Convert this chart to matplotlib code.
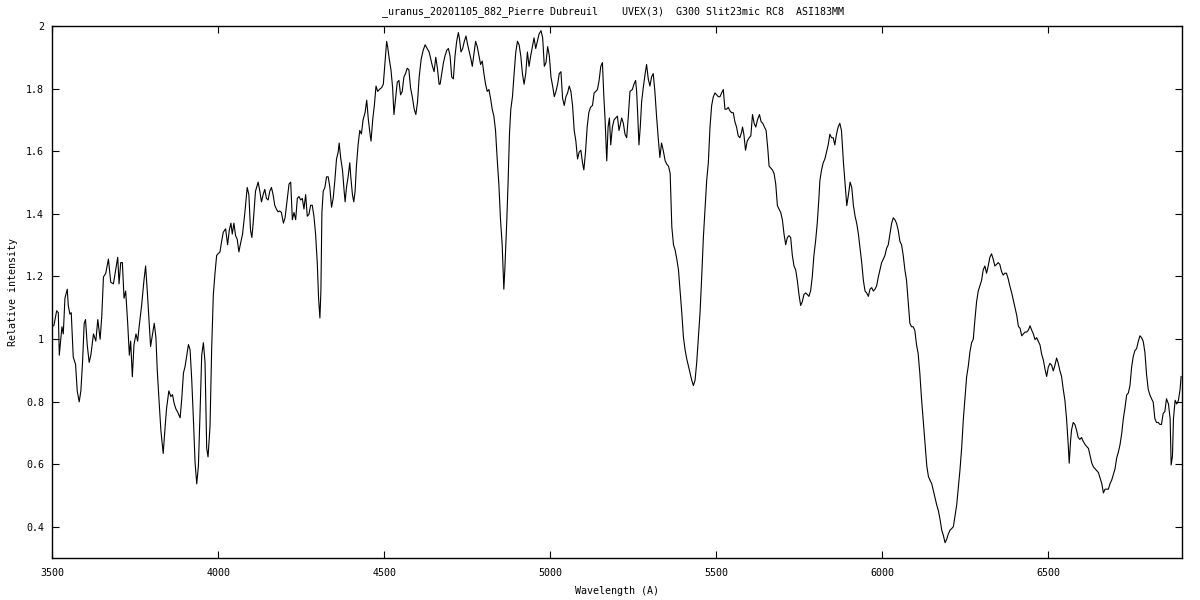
import numpy as np
import matplotlib
matplotlib.use("Agg")
import matplotlib.pyplot as plt
from matplotlib.ticker import FuncFormatter

# spectrum, split in wavelength blocks (Angstrom, relative intensity)
wl_3500 = [3500, 3505, 3513, 3518, 3521, 3525, 3529, 3533, 3538, 3545, 3548, 3553, 3557, 3563, 3570,
           3575, 3581, 3586, 3591, 3596, 3600, 3605, 3611, 3616, 3624, 3631, 3637, 3644, 3649, 3654,
           3661, 3669, 3676, 3684, 3691, 3697, 3701, 3706, 3711, 3716, 3721, 3727, 3732, 3736, 3741,
           3746, 3752, 3757, 3762, 3769, 3776, 3781, 3786, 3791, 3796, 3802, 3807, 3812, 3816, 3821,
           3827, 3834, 3839, 3844, 3851, 3857, 3862, 3867, 3872, 3878, 3885, 3890, 3895, 3900, 3905,
           3910, 3915, 3920, 3925, 3930, 3935, 3940, 3945, 3950, 3955, 3960, 3965, 3969, 3975, 3980,
           3985, 3990, 3995, 4000, 4005, 4010, 4015, 4022, 4028, 4033, 4038, 4042, 4047, 4052, 4057, 4062]
fl_3500 = [1.039, 1.044, 1.090, 1.084, 0.948, 0.993, 1.039, 1.016, 1.130, 1.159, 1.107, 1.079, 1.084, 0.942, 0.919,
           0.834, 0.799, 0.834, 0.925, 1.050, 1.062, 0.982, 0.925, 0.948, 1.016, 0.993, 1.062, 0.999, 1.073, 1.198,
           1.210, 1.255, 1.181, 1.176, 1.221, 1.261, 1.176, 1.244, 1.244, 1.130, 1.153, 1.050, 0.948, 0.993, 0.879,
           0.982, 1.016, 0.993, 1.044, 1.107, 1.187, 1.233, 1.153, 1.062, 0.976, 1.016, 1.050, 1.005, 0.902, 0.811,
           0.708, 0.634, 0.708, 0.777, 0.834, 0.816, 0.822, 0.794, 0.777, 0.765, 0.748, 0.811, 0.891, 0.913, 0.948,
           0.982, 0.965, 0.868, 0.742, 0.605, 0.537, 0.594, 0.765, 0.948, 0.988, 0.925, 0.651, 0.623, 0.720, 0.970,
           1.142, 1.210, 1.267, 1.273, 1.278, 1.312, 1.341, 1.352, 1.301, 1.347, 1.370, 1.335, 1.370, 1.330, 1.318, 1.278]

wl_4065 = [4065, 4073, 4080, 4087, 4092, 4097, 4101, 4105, 4112, 4120, 4125, 4130, 4135, 4140, 4145,
           4150, 4155, 4160, 4165, 4170, 4175, 4180, 4185, 4190, 4196, 4201, 4208, 4213, 4218, 4223,
           4228, 4233, 4238, 4243, 4248, 4253, 4258, 4263, 4268, 4273, 4278, 4283, 4288, 4293, 4298,
           4302, 4306, 4309, 4312, 4316, 4321, 4326, 4331, 4336, 4341, 4346, 4351, 4356, 4361, 4364,
           4369, 4374, 4379, 4382, 4386, 4391, 4396, 4399, 4404, 4408, 4412, 4416, 4421, 4426, 4431,
           4436, 4442, 4447, 4452, 4457, 4460, 4465, 4470, 4475, 4480, 4485, 4492, 4497, 4502, 4507,
           4510, 4515, 4520, 4525, 4529, 4534, 4539, 4544, 4549, 4554, 4559, 4564, 4569, 4574, 4579,
           4585, 4590, 4595, 4600, 4605, 4611, 4617, 4623, 4629, 4635, 4640, 4645, 4650, 4655, 4660, 4665]
fl_4065 = [1.295, 1.335, 1.404, 1.484, 1.461, 1.347, 1.324, 1.370, 1.472, 1.501, 1.472, 1.438, 1.461, 1.478, 1.449,
           1.444, 1.472, 1.484, 1.461, 1.427, 1.415, 1.406, 1.409, 1.404, 1.370, 1.387, 1.449, 1.495, 1.501, 1.381,
           1.404, 1.381, 1.449, 1.455, 1.444, 1.449, 1.415, 1.461, 1.392, 1.398, 1.427, 1.427, 1.392, 1.335, 1.244,
           1.130, 1.067, 1.153, 1.404, 1.472, 1.484, 1.518, 1.518, 1.484, 1.421, 1.449, 1.506, 1.575, 1.597, 1.626,
           1.575, 1.540, 1.472, 1.438, 1.484, 1.518, 1.563, 1.518, 1.461, 1.438, 1.472, 1.552, 1.620, 1.666, 1.655,
           1.700, 1.723, 1.763, 1.700, 1.655, 1.632, 1.700, 1.746, 1.808, 1.791, 1.797, 1.803, 1.814, 1.882, 1.951,
           1.934, 1.894, 1.860, 1.803, 1.717, 1.769, 1.820, 1.826, 1.780, 1.791, 1.837, 1.848, 1.865, 1.860, 1.803,
           1.769, 1.734, 1.717, 1.757, 1.837, 1.894, 1.922, 1.940, 1.928, 1.917, 1.894, 1.871, 1.854, 1.900, 1.865, 1.814]

wl_4668 = [4668, 4673, 4678, 4683, 4688, 4693, 4698, 4703, 4708, 4713, 4718, 4723, 4726, 4731, 4736,
           4741, 4746, 4751, 4756, 4761, 4765, 4770, 4775, 4780, 4785, 4790, 4795, 4800, 4805, 4810,
           4815, 4820, 4825, 4830, 4835, 4840, 4845, 4850, 4855, 4858, 4860, 4863, 4869, 4873, 4877,
           4881, 4886, 4891, 4896, 4901, 4906, 4911, 4916, 4921, 4926, 4931, 4936, 4941, 4946, 4951,
           4956, 4961, 4966, 4972, 4977, 4982, 4987, 4992, 4997, 5002, 5007, 5012, 5017, 5022, 5027,
           5032, 5037, 5042, 5047, 5052, 5057, 5062, 5067, 5072, 5077, 5082, 5087, 5092, 5097, 5101,
           5106, 5111, 5116, 5121, 5127, 5132, 5137, 5142, 5147, 5152, 5157, 5161, 5165, 5170, 5174,
           5178, 5182, 5187, 5192, 5197, 5202, 5207]
fl_4668 = [1.814, 1.848, 1.882, 1.905, 1.922, 1.928, 1.905, 1.837, 1.831, 1.905, 1.951, 1.979, 1.962, 1.917, 1.928,
           1.951, 1.968, 1.940, 1.917, 1.894, 1.871, 1.911, 1.951, 1.934, 1.905, 1.877, 1.888, 1.848, 1.814, 1.791,
           1.797, 1.769, 1.734, 1.712, 1.666, 1.575, 1.495, 1.381, 1.301, 1.221, 1.159, 1.221, 1.381, 1.506, 1.655,
           1.734, 1.774, 1.848, 1.917, 1.951, 1.940, 1.905, 1.848, 1.814, 1.848, 1.917, 1.871, 1.905, 1.934, 1.962,
           1.928, 1.951, 1.974, 1.985, 1.962, 1.871, 1.883, 1.934, 1.905, 1.837, 1.808, 1.774, 1.791, 1.814, 1.848,
           1.854, 1.769, 1.746, 1.774, 1.786, 1.808, 1.791, 1.746, 1.666, 1.632, 1.575, 1.597, 1.603, 1.563, 1.540,
           1.597, 1.677, 1.723, 1.740, 1.746, 1.786, 1.791, 1.797, 1.826, 1.871, 1.883, 1.780, 1.700, 1.569, 1.677,
           1.706, 1.620, 1.677, 1.700, 1.706, 1.712, 1.666]

wl_5215 = [5215, 5220, 5225, 5230, 5235, 5240, 5247, 5252, 5257, 5260, 5263, 5267, 5271, 5275, 5280,
           5285, 5290, 5295, 5300, 5305, 5310, 5315, 5320, 5325, 5330, 5335, 5340, 5346, 5351, 5356,
           5361, 5366, 5371, 5376, 5381, 5386, 5391, 5396, 5401, 5406, 5411, 5416, 5421, 5426, 5431,
           5436, 5441, 5446, 5451, 5456, 5461, 5466, 5471, 5476, 5481, 5486, 5491, 5496, 5501, 5506,
           5511, 5516, 5521, 5526, 5531, 5536, 5541, 5546, 5551, 5556, 5561, 5566, 5571, 5576, 5579,
           5583, 5588, 5593, 5599, 5604, 5609, 5614, 5619, 5624, 5630, 5635, 5640, 5645, 5650, 5655,
           5659, 5664, 5669, 5674, 5679, 5684, 5689, 5694, 5699, 5704, 5709, 5714, 5719, 5724, 5729,
           5734, 5739, 5744, 5749, 5754, 5759, 5764, 5769, 5774, 5779, 5784, 5789, 5794, 5799, 5804, 5809]
fl_5215 = [1.706, 1.689, 1.654, 1.643, 1.712, 1.791, 1.797, 1.814, 1.826, 1.791, 1.723, 1.620, 1.677, 1.757, 1.803,
           1.843, 1.877, 1.831, 1.808, 1.837, 1.848, 1.791, 1.712, 1.643, 1.580, 1.626, 1.603, 1.569, 1.558, 1.552,
           1.529, 1.358, 1.301, 1.284, 1.255, 1.221, 1.153, 1.084, 1.005, 0.965, 0.936, 0.913, 0.891, 0.868, 0.851,
           0.868, 0.925, 1.005, 1.084, 1.198, 1.324, 1.415, 1.506, 1.563, 1.677, 1.746, 1.774, 1.786, 1.780, 1.774,
           1.774, 1.786, 1.797, 1.734, 1.734, 1.740, 1.729, 1.723, 1.723, 1.694, 1.677, 1.649, 1.643, 1.660, 1.677,
           1.654, 1.603, 1.632, 1.643, 1.649, 1.717, 1.689, 1.677, 1.700, 1.717, 1.694, 1.689, 1.677, 1.666, 1.609,
           1.552, 1.546, 1.540, 1.529, 1.495, 1.426, 1.415, 1.404, 1.381, 1.335, 1.301, 1.324, 1.330, 1.324, 1.267,
           1.233, 1.221, 1.187, 1.142, 1.107, 1.119, 1.142, 1.147, 1.142, 1.136, 1.153, 1.198, 1.267, 1.312, 1.369, 1.449]

wl_5812 = [5812, 5817, 5822, 5827, 5832, 5837, 5842, 5847, 5852, 5857, 5862, 5867, 5872, 5877, 5883,
           5888, 5893, 5898, 5903, 5908, 5913, 5918, 5923, 5928, 5933, 5938, 5943, 5948, 5953, 5958,
           5963, 5968, 5973, 5978, 5983, 5988, 5993, 5998, 6003, 6008, 6013, 6018, 6023, 6028, 6033,
           6038, 6043, 6048, 6053, 6058, 6063, 6068, 6073, 6078, 6083, 6088, 6093, 6098, 6103, 6108,
           6113, 6118, 6124, 6129, 6134, 6139, 6144, 6149, 6154, 6159, 6164, 6169, 6174, 6179, 6184,
           6189, 6194, 6199, 6204, 6209, 6214, 6219, 6224, 6229, 6234, 6239, 6244, 6249, 6254, 6259,
           6264, 6269, 6274, 6279, 6284, 6289, 6294, 6299, 6304, 6309, 6314, 6319, 6324, 6329, 6334,
           6339, 6344, 6349, 6354, 6359, 6364, 6369, 6374, 6379, 6384]
fl_5812 = [1.506, 1.540, 1.563, 1.575, 1.597, 1.620, 1.654, 1.643, 1.643, 1.620, 1.654, 1.677, 1.689, 1.666, 1.563,
           1.495, 1.426, 1.461, 1.501, 1.484, 1.426, 1.392, 1.369, 1.335, 1.290, 1.244, 1.187, 1.153, 1.147, 1.136,
           1.159, 1.164, 1.153, 1.159, 1.170, 1.198, 1.221, 1.244, 1.255, 1.267, 1.290, 1.301, 1.335, 1.369, 1.387,
           1.381, 1.369, 1.347, 1.312, 1.301, 1.267, 1.221, 1.187, 1.119, 1.050, 1.039, 1.039, 1.027, 0.982, 0.953,
           0.891, 0.811, 0.731, 0.662, 0.594, 0.560, 0.548, 0.537, 0.514, 0.491, 0.469, 0.451, 0.423, 0.389, 0.372,
           0.349, 0.360, 0.377, 0.389, 0.394, 0.400, 0.434, 0.469, 0.526, 0.582, 0.651, 0.742, 0.811, 0.879, 0.913,
           0.959, 0.988, 0.999, 1.062, 1.119, 1.153, 1.170, 1.187, 1.221, 1.233, 1.210, 1.233, 1.261, 1.272, 1.255,
           1.233, 1.238, 1.244, 1.238, 1.216, 1.204, 1.210, 1.210, 1.193, 1.170]

wl_6390 = [6390, 6395, 6400, 6405, 6410, 6415, 6420, 6425, 6430, 6435, 6440, 6445, 6450, 6455, 6460,
           6465, 6470, 6475, 6480, 6485, 6490, 6495, 6500, 6505, 6510, 6515, 6520, 6525, 6530, 6535,
           6540, 6545, 6550, 6555, 6560, 6563, 6567, 6570, 6575, 6580, 6585, 6590, 6595, 6600, 6605,
           6611, 6616, 6621, 6626, 6631, 6636, 6641, 6646, 6651, 6656, 6661, 6666, 6671, 6676, 6681,
           6686, 6691, 6696, 6701, 6706, 6711, 6716, 6721, 6726, 6731, 6736, 6741, 6746, 6751, 6756,
           6761, 6766, 6771, 6776, 6781, 6786, 6791, 6796, 6801, 6806, 6811, 6816, 6821, 6826, 6831,
           6836, 6841, 6846, 6851, 6856, 6862, 6867, 6870, 6874, 6877, 6882, 6887, 6892, 6897, 6900]
fl_6390 = [1.146, 1.122, 1.099, 1.075, 1.040, 1.034, 1.010, 1.016, 1.022, 1.022, 1.028, 1.042, 1.028, 1.016, 0.998,
           1.004, 0.992, 0.981, 0.951, 0.933, 0.904, 0.880, 0.910, 0.922, 0.916, 0.898, 0.916, 0.939, 0.922, 0.898,
           0.880, 0.839, 0.804, 0.745, 0.662, 0.603, 0.673, 0.709, 0.733, 0.727, 0.709, 0.685, 0.679, 0.685, 0.673,
           0.662, 0.656, 0.650, 0.626, 0.603, 0.591, 0.585, 0.579, 0.573, 0.555, 0.538, 0.508, 0.520, 0.520, 0.520,
           0.538, 0.549, 0.567, 0.585, 0.620, 0.638, 0.662, 0.697, 0.745, 0.780, 0.821, 0.827, 0.851, 0.910, 0.945,
           0.963, 0.969, 0.992, 1.010, 1.004, 0.992, 0.957, 0.886, 0.839, 0.821, 0.809, 0.798, 0.745, 0.733, 0.733,
           0.727, 0.727, 0.762, 0.768, 0.809, 0.792, 0.745, 0.597, 0.626, 0.745, 0.804, 0.792, 0.804, 0.839, 0.880]

x_ticks = [3500, 4000, 4500, 5000, 5500, 6000, 6500]
y_ticks = [0.4, 0.6, 0.8, 1.0, 1.2, 1.4, 1.6, 1.8, 2.0]

title = "_uranus_20201105_882_Pierre Dubreuil    UVEX(3)  G300 Slit23mic RC8  ASI183MM"

wavelength = np.concatenate([wl_3500, wl_4065, wl_4668, wl_5215, wl_5812, wl_6390])
intensity = np.concatenate([fl_3500, fl_4065, fl_4668, fl_5215, fl_5812, fl_6390])

plt.rcParams["font.family"] = ["DejaVu Sans Mono"]
plt.rcParams["font.size"] = 7.2

fig = plt.figure(figsize=(12, 6), dpi=100)
ax = fig.add_axes([0.0436, 0.07, 0.9412, 0.8867])

ax.plot(wavelength, intensity, color="black", linewidth=0.8)

ax.set_xlim(3500, 6902)
ax.set_ylim(0.3, 2.0)
ax.set_xticks(x_ticks)
ax.set_yticks(y_ticks)
ax.yaxis.set_major_formatter(FuncFormatter(lambda v, pos: f"{v:g}"))

# gnuplot look: inward ticks mirrored on every side
ax.tick_params(direction="in", length=5, width=0.8, top=True, right=True,
               labeltop=False, labelright=False, colors="black")
ax.tick_params(axis="x", pad=7)
ax.tick_params(axis="y", pad=6)
for sp in ax.spines.values():
    sp.set_linewidth(1.0)

ax.set_xlabel("Wavelength (A)", labelpad=6)
ax.set_ylabel("Relative intensity", labelpad=6)
fig.text(0.511, 0.98, title, ha="center", va="center")

fig.savefig("out.png", dpi=100)
